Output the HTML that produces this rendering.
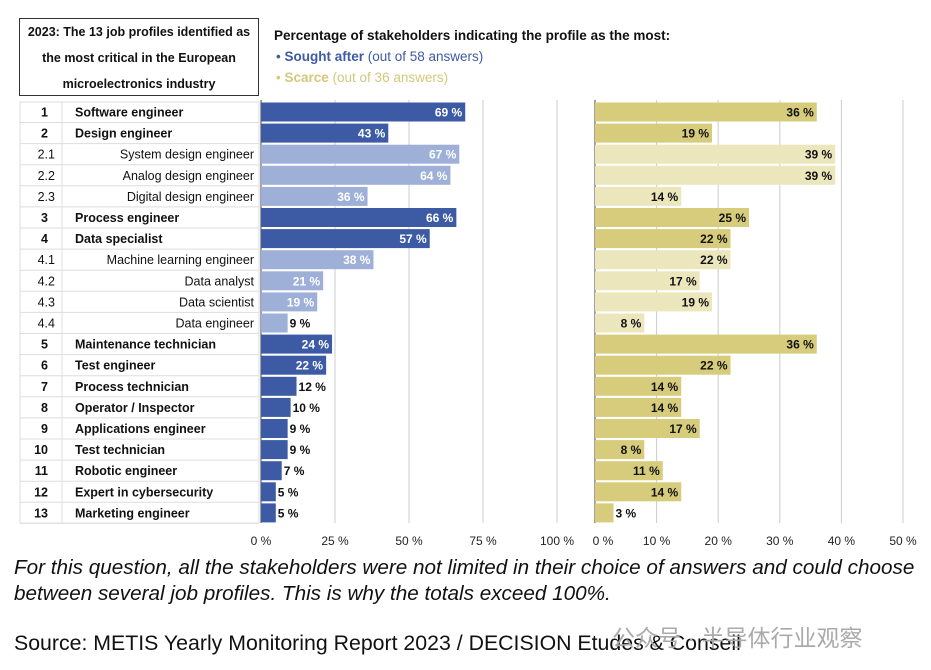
<!DOCTYPE html>
<html><head><meta charset="utf-8"><style>
body{margin:0;background:#fff;width:931px;height:670px;overflow:hidden;position:relative;font-family:"Liberation Sans",sans-serif}
.abs{position:absolute}
</style></head><body>
<div class="abs" style="left:19px;top:18px;width:238px;height:76px;border:1.5px solid #333;font-size:12.5px;font-weight:bold;text-align:center;line-height:26px;color:#111">2023: The 13 job profiles identified as<br>the most critical in the European<br>microelectronics industry</div>
<div class="abs" style="left:274px;top:28px;font-size:13.5px;font-weight:bold;color:#111">Percentage of stakeholders indicating the profile as the most:</div>
<div class="abs" style="left:276px;top:49px;font-size:13.5px;color:#3d5aa5">• <b>Sought after</b> (out of 58 answers)</div>
<div class="abs" style="left:276px;top:70px;font-size:13.5px;color:#d4c87a">• <b>Scarce</b> (out of 36 answers)</div>
<svg class="abs" style="left:0;top:0" width="931" height="670" id="chart"></svg>
<div class="abs" style="left:14px;top:555px;font-size:20.7px;font-style:italic;line-height:26px;color:#111;white-space:nowrap">For this question, all the stakeholders were not limited in their choice of answers and could choose<br>between several job profiles. This is why the totals exceed 100%.</div>
<div class="abs" style="left:14px;top:631px;font-size:21.3px;color:#111;white-space:nowrap">Source: METIS Yearly Monitoring Report 2023 / DECISION Etudes &amp; Conseil</div>
<div class="abs" style="left:612px;top:619px;font-size:23px;color:#aaa;font-family:'Liberation Sans','Noto Sans CJK SC',sans-serif;white-space:nowrap">公众号 · 半导体行业观察</div>
<script>
const ids=["1","2","2.1","2.2","2.3","3","4","4.1","4.2","4.3","4.4","5","6","7","8","9","10","11","12","13"];
const labels=["Software engineer","Design engineer","System design engineer","Analog design engineer","Digital design engineer","Process engineer","Data specialist","Machine learning engineer","Data analyst","Data scientist","Data engineer","Maintenance technician","Test engineer","Process technician","Operator / Inspector","Applications engineer","Test technician","Robotic engineer","Expert in cybersecurity","Marketing engineer"];
const sought=[69,43,67,64,36,66,57,38,21,19,9,24,22,12,10,9,9,7,5,5];
const scarce=[36,19,39,39,14,25,22,22,17,19,8,36,22,14,14,17,8,11,14,3];
const leftTicks=[0,25,50,75,100];
const rightTicks=[0,10,20,30,40,50];
const svg=document.getElementById('chart');const NS='http://www.w3.org/2000/svg';
function mk(t,a,txt){const e=document.createElementNS(NS,t);for(const k in a)e.setAttribute(k,a[k]);if(txt!==undefined)e.textContent=txt;svg.appendChild(e);return e;}
const xL=v=>261+v*2.96, xR=v=>595+v*6.16, yC=i=>112+i*21.1;
const sub=id=>id.includes('.');
leftTicks.forEach(t=>{const g=mk('line',{x1:xL(t),x2:xL(t),y1:100,y2:523,stroke:t?'#ccc':'#444','stroke-width':1});
const l=mk('text',{x:xL(t),y:545,'font-size':12,'text-anchor':'middle',fill:'#222'},t+' %');});
rightTicks.forEach(t=>{const g=mk('line',{x1:xR(t),x2:xR(t),y1:100,y2:523,stroke:t?'#ccc':'#444','stroke-width':1});
const l=mk('text',{x:xR(t)+(t?0:8),y:545,'font-size':12,'text-anchor':'middle',fill:'#222'},t+' %');});
ids.forEach((id,i)=>{const y=yC(i),s=sub(id);
const ln=mk('line',{x1:20,x2:259,y1:y+10.5,y2:y+10.5,stroke:'#ddd'});
const n=mk('text',{x:s?55:48,y:y+4.5,'font-size':12.5,'text-anchor':'end','font-weight':s?'normal':'bold',fill:'#111'},id);
const lb=mk('text',{x:s?254:75,y:y+4.5,'font-size':12.5,'text-anchor':s?'end':'start','font-weight':s?'normal':'bold',fill:'#111'},labels[i]);
const v=sought[i];const b=mk('rect',{x:xL(0),y:y-9.5,width:xL(v)-xL(0),height:19,fill:s?'#9fb0d8':'#3d5aa5'});
const ins=v>=15;const t=mk('text',{x:ins?xL(v)-3:xL(v)+2,y:y+4.5,'font-size':12,'font-weight':'bold','text-anchor':ins?'end':'start',fill:ins?'#fff':'#111'},v+' %');
const w=scarce[i];const b2=mk('rect',{x:xR(0),y:y-9.5,width:xR(w)-xR(0),height:19,fill:s?'#ece6bd':'#d6cc7c'});
const in2=w>=6;const t2=mk('text',{x:in2?xR(w)-3:xR(w)+2,y:y+4.5,'font-size':12,'font-weight':'bold','text-anchor':in2?'end':'start',fill:'#111'},w+' %');
});
const c1=mk('line',{x1:62,x2:62,y1:102,y2:523,stroke:'#ddd'});
const c2=mk('rect',{x:20,y:102,width:239,height:421,fill:'none',stroke:'#ddd'});
</script>
</body></html>
